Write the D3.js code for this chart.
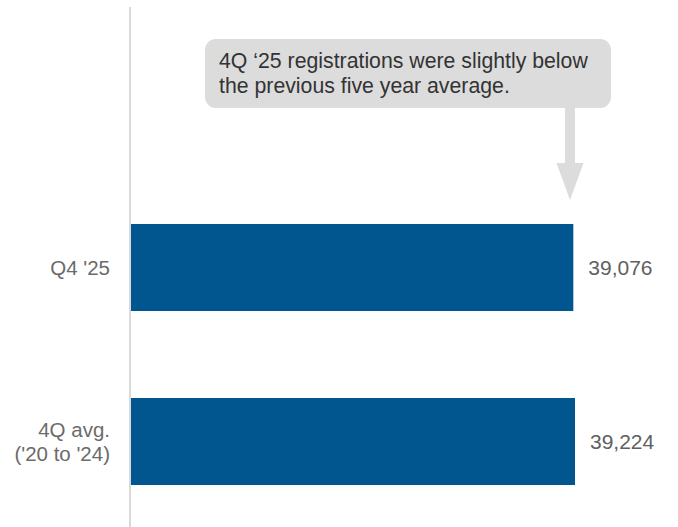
<!DOCTYPE html>
<html><head><meta charset="utf-8">
<script src="https://cdn.jsdelivr.net/npm/d3@7"></script>
<style>html,body{margin:0;padding:0;background:#fff;}svg{display:block;}</style>
</head><body>
<svg id="chart" width="678" height="527"></svg>
<script>
const categories = ["Q4 '25", "4Q avg.\n('20 to '24)"];
const values = [39076, 39224];
const valueLabels = ["39,076", "39,224"];
const calloutLines = ["4Q \u201825 registrations were slightly below", "the previous five year average."];

const W = 678, H = 527;
const svg = d3.select("#chart");
const font = "'Liberation Sans', Arial, sans-serif";

const x = d3.scaleLinear().domain([0, 39224]).range([131, 575]);
const y = d3.scaleBand().domain(categories).range([224, 485]).paddingInner(0.5).paddingOuter(0);

svg.append("g").selectAll("rect").data(values).join("rect")
  .attr("x", x(0))
  .attr("y", (d, i) => y(categories[i]))
  .attr("width", d => x(d) - x(0))
  .attr("height", y.bandwidth())
  .attr("fill", "#02568f");

// axis line
svg.append("line").attr("x1", 130).attr("x2", 130).attr("y1", 7).attr("y2", 527)
  .attr("stroke", "#d9d9d9").attr("stroke-width", 2);

// value labels
svg.append("g").selectAll("text").data(values).join("text")
  .attr("x", d => x(d) + 15)
  .attr("y", (d, i) => y(categories[i]) + y.bandwidth() / 2)
  .attr("dy", "0.35em")
  .attr("font-family", font).attr("font-size", 21).attr("fill", "#606060")
  .text((d, i) => valueLabels[i]);

// category labels
const cat = svg.append("g").selectAll("text").data(categories).join("text")
  .attr("text-anchor", "end")
  .attr("font-family", font).attr("font-size", 20.5).attr("fill", "#6b6b6b")
  .attr("y", (d) => y(d) + y.bandwidth() / 2);
cat.each(function(d) {
  const lines = d.split("\n");
  const t = d3.select(this);
  const lh = 24;
  lines.forEach((l, j) => {
    t.append("tspan").attr("x", 110)
      .attr("dy", j === 0 ? (7 - (lines.length - 1) / 2 * lh) + "px" : lh + "px")
      .text(l);
  });
});

// callout
const g = svg.append("g");
const arrowX = 570;
g.append("rect").attr("x", 205).attr("y", 39).attr("width", 406).attr("height", 69)
  .attr("rx", 11).attr("fill", "#dcdcdd");
g.append("rect").attr("x", arrowX - 5).attr("y", 105).attr("width", 10).attr("height", 60).attr("fill", "#dcdcdd");
g.append("path").attr("d", d3.line()([[arrowX - 13.5, 163], [arrowX + 13.5, 163], [arrowX, 200]]) + "Z")
  .attr("fill", "#dcdcdd");
const ct = g.selectAll("text.c").data(calloutLines).join("text").attr("class", "c")
  .attr("x", 219).attr("y", (d, i) => 68 + i * 25)
  .attr("font-family", font).attr("font-size", 19).attr("fill", "#333")
  .text(d => d);
const w0 = ct.node().getComputedTextLength();
ct.attr("font-size", 19 * 369 / w0);
</script>
</body></html>
